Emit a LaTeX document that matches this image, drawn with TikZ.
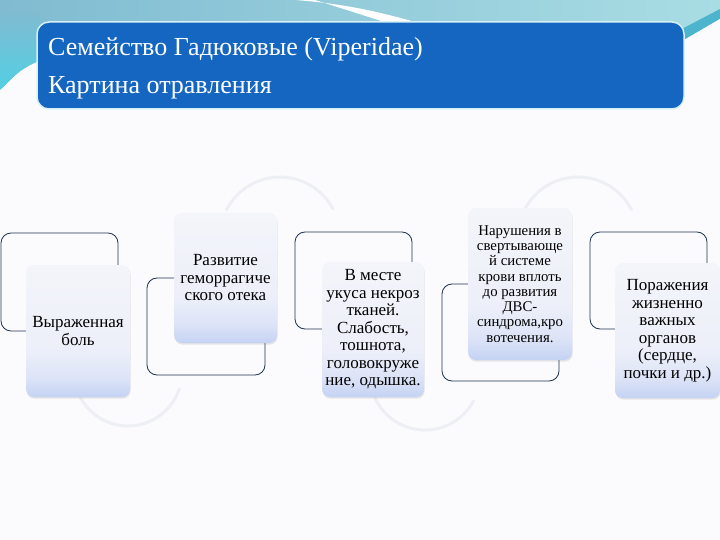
\documentclass[tikz,border=0pt]{standalone}
\usepackage{fontspec}
\setmainfont{Liberation Serif}
\usetikzlibrary{shadows}
\definecolor{bg}{HTML}{FBFBFD}
\definecolor{bandL}{HTML}{80BBD1}
\definecolor{bandR}{HTML}{A9DDE4}
\definecolor{cyanL}{HTML}{52CFE3}
\definecolor{tealS}{HTML}{4DB4CE}
\definecolor{titleblue}{HTML}{1566C1}
\definecolor{titlerim}{HTML}{D8F1F6}
\definecolor{navy}{HTML}{1E3450}
\definecolor{arcc}{HTML}{EDEFF5}
\definecolor{boxbot}{HTML}{C4D2F3}
\definecolor{boxmid}{HTML}{DCE3F7}
\definecolor{boxmidb}{HTML}{ECEFF9}
\definecolor{boxtop}{HTML}{F4F5FA}
\pgfdeclareverticalshading{boxshade}{100bp}{color(0bp)=(boxbot); color(25bp)=(boxbot); color(32bp)=(boxmid); color(42bp)=(boxmidb); color(75bp)=(boxtop); color(100bp)=(boxtop)}
\begin{document}
\begin{tikzpicture}[x=1pt,y=1pt,
  outbox/.style={draw=navy, line width=0.8pt, fill=bg, rounded corners=10pt, inner sep=0pt},
  fillbox/.style={shading=boxshade, rounded corners=8pt, align=center, inner sep=1pt,
    drop shadow={opacity=0.13, shadow xshift=0.6pt, shadow yshift=-1.6pt, fill=black!70},
    font=\fontsize{17}{17.5}\selectfont},
  smallfont/.style={font=\fontsize{14.8}{15.3}\selectfont},
  arcline/.style={draw=arcc, line width=3pt, line cap=round},
  titletext/.style={anchor=base west, text=white, inner sep=0pt, font=\fontsize{26}{30}\selectfont}]
\useasboundingbox (0,0) rectangle (720,-540);
\fill[bg] (0,0) rectangle (720,-540);
% background band
\shade[left color=bandL, right color=bandR] (0,0) -- (720,0) -- (720,-12) -- (684,-34) -- (684,-60) -- (40,-60) .. controls (20,-70) .. (0,-90) -- cycle;
\shade[top color=bandL, bottom color=cyanL] (0,-12) -- (40,-12) -- (40,-60) .. controls (20,-70) .. (0,-90) -- cycle;
\fill[white] (295,0) .. controls (350,-4) and (400,-15) .. (470,-40) -- (470,-50) .. controls (400,-27) and (360,-14) .. (315,0) -- cycle;
\fill[tealS] (676,-32) -- (720,-9) -- (720,-19) -- (684,-40) -- cycle;
\fill[bg] (684,-40) -- (720,-19) -- (720,-60) -- (684,-60) -- cycle;
% faint circle arcs
\draw[arcline] (128,-372) ++(208:54) arc[start angle=208, end angle=342, radius=54];
\draw[arcline] (425,-375) ++(204:55) arc[start angle=204, end angle=332, radius=55];
\draw[arcline] (280,-237) ++(28:60) arc[start angle=28, end angle=153, radius=60];
\draw[arcline] (578,-237) ++(27:60) arc[start angle=27, end angle=151, radius=60];
% title
\node[draw=titlerim, line width=1.5pt, fill=titleblue, rounded corners=12pt, minimum width=647pt, minimum height=87pt, inner sep=0pt] (title) at (360.5,-65.5) {};
\node[titletext] (t1) at (48,-56) {Семейство Гадюковые (Viperidae)};
\node[titletext] (t2) at (48,-94) {Картина отравления};
% outline boxes
\node[outbox, minimum width=117pt, minimum height=98pt] (o1) at (59.5,-282) {};
\node[outbox, minimum width=118pt, minimum height=97pt] (o2) at (206,-326.5) {};
\node[outbox, minimum width=117pt, minimum height=97pt] (o3) at (353.5,-280.5) {};
\node[outbox, minimum width=117pt, minimum height=97pt] (o4) at (500.5,-332.5) {};
\node[outbox, minimum width=117pt, minimum height=97pt] (o5) at (648.5,-280.5) {};
% filled boxes
\node[fillbox, minimum width=104pt, minimum height=132pt] (f1) at (78,-331) {Выраженная\\боль};
\node[fillbox, minimum width=103pt, minimum height=130pt] (f2) at (225.5,-278) {Развитие\\геморрагиче\\ского отека};
\node[fillbox, minimum width=102pt, minimum height=135pt] (f3) at (373,-329.5) {В месте\\укуса некроз\\тканей.\\Слабость,\\тошнота,\\головокруже\\ние, одышка.};
\node[fillbox, smallfont, minimum width=104pt, minimum height=152pt] (f4) at (520,-284) {Нарушения в\\свертывающе\\й системе\\крови вплоть\\до развития\\ДВС-\\синдрома,кро\\вотечения.};
\node[fillbox, minimum width=105pt, minimum height=135pt] (f5) at (667.5,-330.5) {Поражения\\жизненно\\важных\\органов\\(сердце,\\почки и др.)};
\end{tikzpicture}
\end{document}
